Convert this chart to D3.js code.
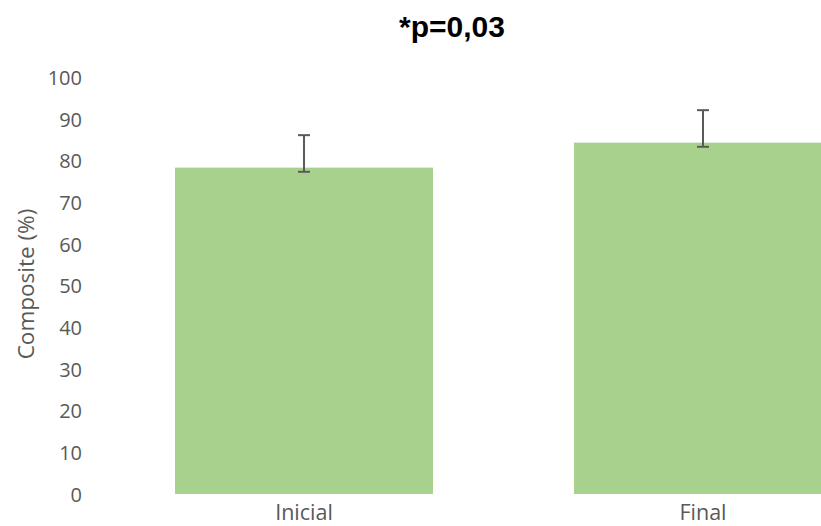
<!DOCTYPE html>
<html>
<head>
<meta charset="utf-8">
<script src="https://cdn.jsdelivr.net/npm/d3@7"></script>
<style>
  html, body { margin: 0; padding: 0; background: #fff; }
  svg { display: block; }
</style>
</head>
<body>
<svg id="chart" width="821" height="526"></svg>
<script>
const categories = ["Inicial", "Final"];
const values = [78.4, 84.4];
const errLow = [77.4, 83.4];
const errHigh = [86.2, 92.2];
const yTicks = [0, 10, 20, 30, 40, 50, 60, 70, 80, 90, 100];
const titleText = "*p=0,03";
const yTitle = "Composite (%)";

const svg = d3.select("#chart");
const W = 821, H = 526;
svg.append("rect").attr("width", W).attr("height", H).attr("fill", "#fff");

const x = d3.scaleBand()
  .domain(categories)
  .range([104.5, 902.5])
  .paddingInner(0.3534)
  .paddingOuter(0.1767);

const y = d3.scaleLinear().domain([0, 100]).range([494, 77.7]);

const font = "'Open Sans', sans-serif";
const grey = "#595959";

// bars
svg.append("g").selectAll("rect")
  .data(categories)
  .join("rect")
  .attr("x", d => x(d))
  .attr("width", x.bandwidth())
  .attr("y", (d, i) => y(values[i]))
  .attr("height", (d, i) => y(0) - y(values[i]))
  .attr("fill", "#a9d18e");

// error bars
const eg = svg.append("g").attr("stroke", "#5a5a5a").attr("stroke-width", 2).attr("fill", "none");
categories.forEach((c, i) => {
  const cx = Math.round(x(c) + x.bandwidth() / 2);
  eg.append("line").attr("x1", cx).attr("x2", cx).attr("y1", y(errLow[i])).attr("y2", y(errHigh[i]));
  eg.append("line").attr("x1", cx - 6).attr("x2", cx + 6).attr("y1", y(errLow[i])).attr("y2", y(errLow[i]));
  eg.append("line").attr("x1", cx - 6).attr("x2", cx + 6).attr("y1", y(errHigh[i])).attr("y2", y(errHigh[i]));
});

// y axis
const yAxis = d3.axisLeft(y).tickValues(yTicks).tickSize(0).tickPadding(0).tickFormat(d3.format("d"));
const ya = svg.append("g").attr("transform", "translate(82,0)").call(yAxis);
ya.select(".domain").remove();
ya.selectAll("text").attr("font-family", font).attr("font-size", 20).attr("fill", grey).attr("dy", "0.35em");

// x axis
const xAxis = d3.axisBottom(x).tickSize(0).tickPadding(0);
const xa = svg.append("g").attr("transform", "translate(0,520)").call(xAxis);
xa.select(".domain").remove();
xa.selectAll("text").attr("font-family", font).attr("font-size", 21.5).attr("fill", grey).attr("dy", "0");

// y title
svg.append("text")
  .attr("transform", "translate(34,284) rotate(-90)")
  .attr("text-anchor", "middle")
  .attr("font-family", font)
  .attr("font-size", 22.5)
  .attr("fill", grey)
  .text(yTitle);

// chart title
svg.append("text")
  .attr("x", 452).attr("y", 37)
  .attr("text-anchor", "middle")
  .attr("font-family", "'Liberation Sans', Arial, sans-serif")
  .attr("font-weight", "bold")
  .attr("font-size", 30)
  .attr("fill", "#000")
  .text(titleText);
</script>
</body>
</html>
